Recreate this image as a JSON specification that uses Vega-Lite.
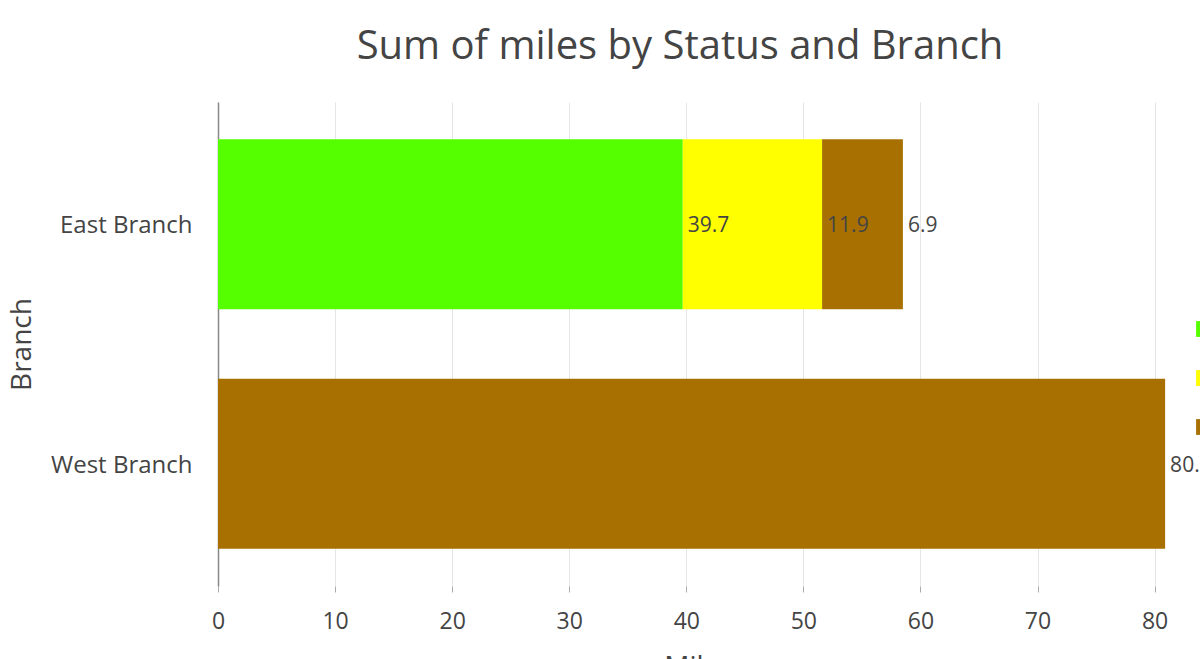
{
  "$schema": "https://vega.github.io/schema/vega-lite/v6.json",
  "autosize": "none",
  "width": 960,
  "height": 484,
  "padding": {"left": 218, "top": 102, "right": 40, "bottom": 73},
  "background": "white",
  "config": {
    "font": "Open Sans",
    "view": {"stroke": null}
  },
  "title": {
    "text": "Sum of miles by Status and Branch",
    "fontSize": 40,
    "fontWeight": "normal",
    "color": "#444444",
    "anchor": "middle",
    "frame": "group",
    "dx": -18,
    "offset": 35
  },
  "data": {
    "values": [
      {"Branch": "East Branch", "Status": "Completed", "miles": 39.7},
      {"Branch": "East Branch", "Status": "In Progress", "miles": 11.9},
      {"Branch": "East Branch", "Status": "Not Started", "miles": 6.9},
      {"Branch": "West Branch", "Status": "Not Started", "miles": 80.9}
    ]
  },
  "encoding": {
    "y": {
      "field": "Branch",
      "type": "nominal",
      "sort": ["East Branch", "West Branch"],
      "scale": {"paddingInner": 0.29, "paddingOuter": 0.155},
      "axis": {
        "title": "Branch",
        "titleFontSize": 28,
        "titleFontWeight": "normal",
        "titleColor": "#444444",
        "titlePadding": 14,
        "labelFontSize": 24,
        "labelColor": "#444444",
        "labelPadding": 26,
        "labelOffset": 2,
        "ticks": false,
        "domainColor": "#888888",
        "domainWidth": 1.5
      }
    },
    "x": {
      "field": "miles",
      "type": "quantitative",
      "aggregate": "sum",
      "stack": "zero",
      "scale": {"domain": [0, 82], "nice": false},
      "axis": {
        "title": "Miles",
        "titleFontSize": 28,
        "titleFontWeight": "normal",
        "titleColor": "#444444",
        "titlePadding": 20,
        "labelFontSize": 23,
        "labelColor": "#444444",
        "labelPadding": 18,
        "labelFlush": false,
        "values": [0, 10, 20, 30, 40, 50, 60, 70, 80],
        "grid": true,
        "gridColor": "#e6e6e6",
        "domain": false,
        "tickColor": "#aaaaaa",
        "tickSize": 6
      }
    },
    "order": {"field": "Status", "type": "nominal"}
  },
  "layer": [
    {
      "mark": {"type": "bar"},
      "encoding": {
        "color": {
          "field": "Status",
          "type": "nominal",
          "scale": {
            "domain": ["Completed", "In Progress", "Not Started"],
            "range": ["#55ff00", "#ffff00", "#a87000"]
          },
          "legend": {
            "title": null,
            "orient": "none",
            "legendX": 975,
            "legendY": 216,
            "symbolType": "square",
            "symbolSize": 250,
            "symbolStrokeWidth": 0,
            "labelFontSize": 22,
            "labelColor": "#444444",
            "rowPadding": 27
          }
        }
      }
    },
    {
      "mark": {"type": "text", "align": "left", "baseline": "middle", "dx": 5, "dy": 2, "fontSize": 21, "color": "#444444"},
      "encoding": {
        "text": {"field": "miles", "type": "quantitative", "aggregate": "sum", "format": ".1f"}
      }
    }
  ]
}
